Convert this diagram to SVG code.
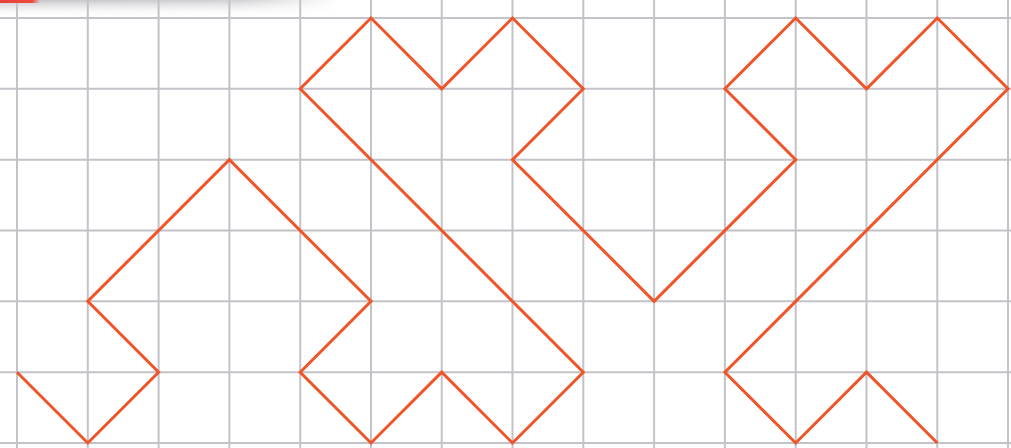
<svg xmlns="http://www.w3.org/2000/svg" width="1011" height="448" viewBox="0 0 1011 448">
<defs>
<linearGradient id="shadeV" x1="0" y1="0" x2="0" y2="1">
<stop offset="0" stop-color="#c4c4c8" stop-opacity="1"/>
<stop offset="1" stop-color="#ffffff" stop-opacity="0"/>
</linearGradient>
<linearGradient id="fadeH" x1="0" y1="0" x2="1" y2="0">
<stop offset="0" stop-color="#fff" stop-opacity="1"/>
<stop offset="0.7" stop-color="#fff" stop-opacity="0.8"/>
<stop offset="1" stop-color="#fff" stop-opacity="0"/>
</linearGradient>
<mask id="m"><rect x="0" y="0" width="340" height="20" fill="url(#fadeH)"/></mask>
<linearGradient id="redbar" x1="0" y1="0" x2="1" y2="0">
<stop offset="0" stop-color="#e8403a"/>
<stop offset="0.8" stop-color="#ee4a3e"/>
<stop offset="1" stop-color="#ee4a3e" stop-opacity="0"/>
</linearGradient>
</defs>
<style>
.grid line{stroke:#c2c2c8;stroke-width:2}
.curve{fill:none;stroke:#f0552a;stroke-width:3;stroke-linejoin:miter;stroke-linecap:butt}
</style>
<rect width="1011" height="448" fill="#ffffff"/>
<rect x="0" y="0" width="340" height="18" fill="url(#shadeV)" mask="url(#m)"/>
<g class="grid">
<line x1="17" y1="0" x2="17" y2="448"/>
<line x1="87.8" y1="0" x2="87.8" y2="448"/>
<line x1="158.6" y1="0" x2="158.6" y2="448"/>
<line x1="229.4" y1="0" x2="229.4" y2="448"/>
<line x1="300.2" y1="0" x2="300.2" y2="448"/>
<line x1="371" y1="0" x2="371" y2="448"/>
<line x1="441.7" y1="0" x2="441.7" y2="448"/>
<line x1="512.5" y1="0" x2="512.5" y2="448"/>
<line x1="583.3" y1="0" x2="583.3" y2="448"/>
<line x1="654.1" y1="0" x2="654.1" y2="448"/>
<line x1="724.9" y1="0" x2="724.9" y2="448"/>
<line x1="795.7" y1="0" x2="795.7" y2="448"/>
<line x1="866.5" y1="0" x2="866.5" y2="448"/>
<line x1="937.3" y1="0" x2="937.3" y2="448"/>
<line x1="1008" y1="0" x2="1008" y2="448"/>
<line x1="0" y1="18" x2="1011" y2="18"/>
<line x1="0" y1="88.8" x2="1011" y2="88.8"/>
<line x1="0" y1="159.7" x2="1011" y2="159.7"/>
<line x1="0" y1="230.5" x2="1011" y2="230.5"/>
<line x1="0" y1="301.3" x2="1011" y2="301.3"/>
<line x1="0" y1="372.2" x2="1011" y2="372.2"/>
<line x1="0" y1="443" x2="1011" y2="443"/>
</g>
<rect x="0" y="0" width="40" height="3" fill="url(#redbar)"/>
<g id="curve">
<polyline class="curve" points="17,372.2 87.8,443 158.6,372.2 87.8,301.3 229.4,159.7 371,301.3 300.2,372.2 371,443 441.7,372.2 512.5,443 583.3,372.2 300.2,88.8 371,18 441.7,88.8 512.5,18 583.3,88.8 512.5,159.7 654.1,301.3 795.7,159.7 724.9,88.8 795.7,18 866.5,88.8 937.3,18 1008,88.8 724.9,372.2 795.7,443 866.5,372.2 937.3,443"/>
</g>
</svg>
